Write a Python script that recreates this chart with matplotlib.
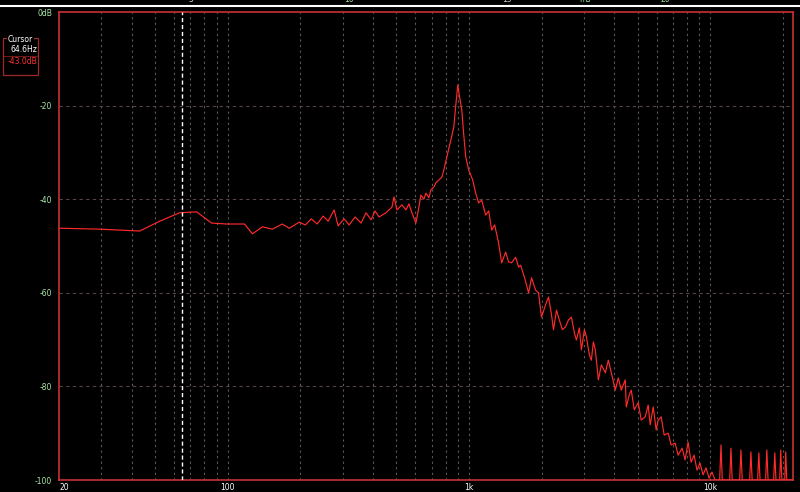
import matplotlib
matplotlib.use("Agg")
import matplotlib.pyplot as plt
import matplotlib.patches as mpatches
import matplotlib.lines as mlines

# spectrum (Hz, dB)
freq = [20, 29.5, 43.2, 52.3, 63.2, 74.4, 85.8, 98.9, 117.4, 126.7,
        139.3, 153.2, 168.5, 180.1, 198.1, 209.8, 222.2, 235.1, 249.0, 261.0,
        276.4, 287.1, 303.9, 318.8, 337.6, 357.3, 374.8, 393.2, 408.3, 424.0,
        453.4, 480.0, 489.2, 503.4, 528.0, 548.4, 564.2, 580.6, 603.0, 620.4,
        632.5, 650.8, 663.4, 682.6, 695.7, 715.8, 729.6, 750.6, 772.4, 787.1,
        810.0, 841.5, 865.8, 882.4, 899.4, 916.8, 934.3, 952.3, 970.6, 998.6,
        1037, 1067, 1098, 1130, 1174, 1208, 1243, 1279, 1328, 1367,
        1420, 1461, 1503, 1562, 1607, 1638, 1702, 1768, 1819, 1889,
        1944, 2000, 2078, 2138, 2200, 2242, 2307, 2351, 2442, 2513,
        2586, 2661, 2738, 2790, 2871, 2926, 3011, 3069, 3158, 3218,
        3280, 3343, 3440, 3540, 3678, 3784, 3894, 4045, 4162, 4282,
        4364, 4448, 4491, 4621, 4710, 4846, 5034, 5180, 5381, 5536,
        5643, 5806, 5975, 6090, 6266, 6448, 6698, 6892, 7159, 7366,
        7652, 7873, 8101, 8336, 8577, 8825, 9080, 9343, 9613, 9892,
        10178, 10472,
        10950, 11088, 11230, 12050, 12196, 12340, 13250, 13414, 13580,
        14580, 14756, 14930, 15730, 15916, 16100, 16980, 17177, 17380,
        18330, 18535, 18740, 19420, 19622, 19820, 20380, 20574, 20770, 22050]
level = [-46.2, -46.4, -46.8, -44.7, -42.9, -42.7, -45.1, -45.3, -45.3, -47.4,
         -45.9, -46.4, -45.3, -46.2, -44.9, -45.5, -44.2, -45.3, -43.6, -44.7,
         -42.3, -45.7, -44.2, -45.5, -43.8, -45.1, -42.9, -44.4, -42.5, -43.8,
         -42.9, -41.7, -39.5, -42.3, -41.2, -42.3, -41.0, -42.9, -45.1, -41.7,
         -39.1, -40.0, -38.7, -39.7, -38.0, -37.4, -36.5, -35.9, -35.3, -33.8,
         -31.0, -27.4, -24.6, -19.9, -15.6, -18.4, -20.9, -26.3, -31.0, -33.8,
         -35.9, -38.7, -40.8, -40.2, -43.4, -42.5, -46.6, -45.5, -49.4, -53.6,
         -51.3, -53.4, -53.6, -52.4, -54.5, -54.1, -56.8, -60.0, -56.8, -59.4,
         -60.0, -65.2, -62.6, -60.9, -64.7, -67.9, -63.7, -65.2, -67.9, -67.3,
         -65.8, -65.2, -68.6, -70.1, -67.5, -72.2, -67.9, -69.4, -73.3, -74.4,
         -70.5, -72.2, -78.6, -75.4, -77.1, -74.4, -77.1, -80.8, -78.2, -80.8,
         -79.7, -78.6, -84.4, -81.8, -80.8, -85.0, -83.5, -87.2, -86.5, -84.0,
         -88.2, -84.4, -89.3, -87.2, -86.5, -90.4, -90.0, -92.5, -92.1, -94.7,
         -93.2, -95.7, -91.9, -96.2, -94.7, -97.9, -96.4, -98.9, -97.4, -99.6,
         -98.3, -100,
         -100, -92.5, -100, -100, -93.2, -100, -100, -93.6, -100,
         -100, -94.0, -100, -100, -94.2, -100, -100, -93.6, -100,
         -100, -94.2, -100, -100, -93.6, -100, -100, -94.0, -100, -100]

y_ticks = [0, -20, -40, -60, -80, -100]
y_labels = ["0dB", "-20", "-40", "-60", "-80", "-100"]
x_ticks = [20, 100, 1000, 10000]
x_labels = ["20", "100", "1k", "10k"]
grid_freqs = [m * d for d in (10, 100, 1000, 10000) for m in range(1, 10)
              if 20 < m * d < 22050]

cursor_freq = 64.6
cursor_text = ["Cursor", "64.6Hz", "-43.0dB"]

# top (time) strip labels in ms
ms_ticks = [5, 10, 15, 20]
ms_colors = ["#e0e0e0", "#9fe09f", "#c8c8c8", "#9fe09f"]

fig = plt.figure(figsize=(8, 4.92), dpi=100, facecolor="black")
ax = fig.add_axes([59 / 800, 1 - 480 / 492, 734 / 800, 468 / 492])
ax.set_facecolor("black")
ax.set_xscale("log")
ax.set_xlim(20, 22050)
ax.set_ylim(-100, 0)

for g in grid_freqs:
    ax.axvline(g, color="#5a5a5a", lw=0.8, ls=(0, (2, 3)), zorder=1)
for t in y_ticks[1:-1]:
    ax.axhline(t, color="#5a4444", lw=0.8, ls=(0, (3, 3)), zorder=1)

ax.plot(freq, level, color="#ff2a2a", lw=0.85, zorder=3)
ax.axvline(cursor_freq, color="white", lw=1.0, ls=(0, (3, 2)), zorder=4)

for s in ax.spines.values():
    s.set_color("#c83232")
    s.set_linewidth(1.2)

ax.set_xticks(x_ticks)
ax.set_xticklabels(x_labels)
ax.xaxis.set_minor_locator(matplotlib.ticker.NullLocator())
ax.set_yticks(y_ticks)
ax.set_yticklabels(y_labels)
ax.tick_params(length=0, labelsize=5.5)
ax.tick_params(axis="x", colors="white", pad=2)
ax.tick_params(axis="y", colors="#a8e8a8", pad=5)
ax.get_xticklabels()[0].set_horizontalalignment("left")

# top strip: white rule and half-hidden ms scale
fig.add_artist(mlines.Line2D([0, 1], [1 - 6 / 492, 1 - 6 / 492], color="white", lw=1.5))
x_ms = lambda v: (33 + 31.6 * v) / 800
for v, c in zip(ms_ticks, ms_colors):
    fig.text(x_ms(v), 1.0, str(v), color=c, fontsize=5.5, ha="center", va="center")
fig.text(585 / 800, 1.0, "ms", color="#9fe09f", fontsize=5.5, ha="center", va="center")

# cursor read-out box
fig.add_artist(mpatches.Rectangle((3 / 800, 1 - 75 / 492), 35 / 800, 37 / 492,
                                  fill=False, ec="#a02828", lw=0.9))
fig.add_artist(mlines.Line2D([4 / 800, 37 / 800], [1 - 56 / 492, 1 - 56 / 492],
                             color="#701818", lw=0.8))
fig.text(8 / 800, 1 - 39 / 492, cursor_text[0], color="white", fontsize=5.5,
         va="center", ha="left",
         bbox=dict(facecolor="black", edgecolor="none", pad=0.8))
fig.text(37 / 800, 1 - 49 / 492, cursor_text[1], color="white", fontsize=5.5,
         va="center", ha="right")
fig.text(37 / 800, 1 - 62 / 492, cursor_text[2], color="#ff3030", fontsize=5.5,
         va="center", ha="right")

fig.savefig("out.png", dpi=100, facecolor="black")
